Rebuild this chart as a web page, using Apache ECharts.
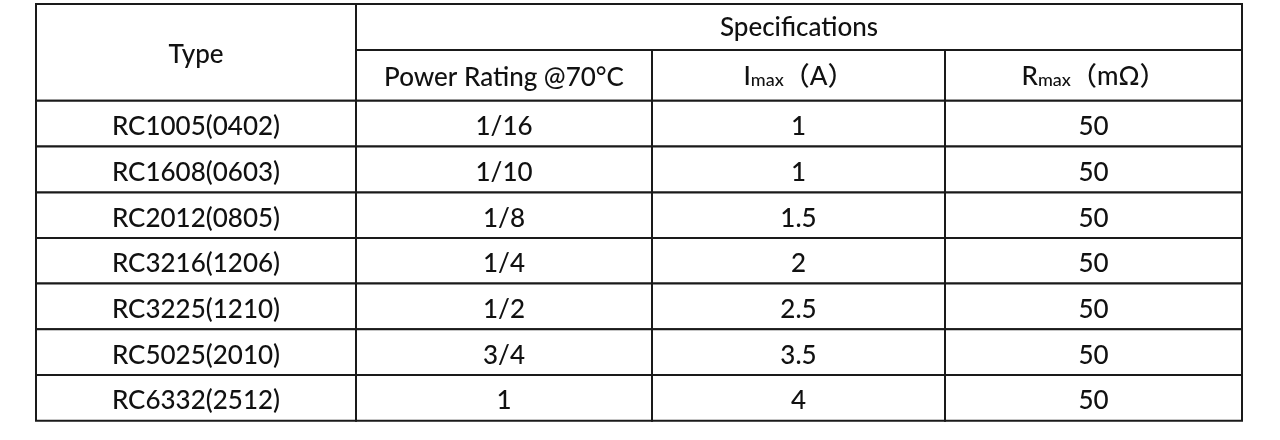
<!DOCTYPE html>
<html>
<head>
    <meta charset="utf-8" />
    <title>Specifications</title>
    <style>
        html, body { margin: 0; padding: 0; background: #fff; }
        #spec-table { width: 1280px; height: 440px; }
    </style>
</head>
<body>
    <div id="spec-table"></div>
    <script src="https://cdn.jsdelivr.net/npm/echarts@6/dist/echarts.min.js"></script>
<script>
    // 表格数据
    var types = ['RC1005(0402)', 'RC1608(0603)', 'RC2012(0805)', 'RC3216(1206)', 'RC3225(1210)', 'RC5025(2010)', 'RC6332(2512)'];
    var powerRating = ['1/16', '1/10', '1/8', '1/4', '1/2', '3/4', '1'];
    var iMax = ['1', '1', '1.5', '2', '2.5', '3.5', '4'];
    var rMax = ['50', '50', '50', '50', '50', '50', '50'];
    var groupHeader = 'Specifications';
    var typeHeader = 'Type';
    var colHeaders = ['Power Rating @70°C', '{b|I}{s|max}{p|（}{b|A}{p|）}', '{b|R}{s|max}{p|（}{b|mΩ}{p|）}'];

    // 列和行的边界（坐标轴单位）
    var colEdges = [0, 320, 616, 909, 1206];
    var rowEdges = [0, 46, 96.7, 142.6, 188.4, 234.1, 279.6, 325.3, 371, 416.7];

    var FONT = 'Lato, "Noto Sans CJK SC", sans-serif';
    var INK = '#111';

    // 单元格: [列起, 列止, 行起, 行止], 文字和偏移另存
    var cells = [];
    var texts = [];
    var offsets = [];
    function addCell(c0, c1, r0, r1, txt, dy) {
        cells.push([colEdges[c0], colEdges[c1], rowEdges[r0], rowEdges[r1]]);
        texts.push(txt);
        offsets.push(dy);
    }
    addCell(0, 1, 0, 2, typeHeader, 2);
    addCell(1, 4, 0, 1, groupHeader, 1);
    for (var i = 0; i < colHeaders.length; i++) {
        // 富文本表头比普通文字偏高, 多下移一点
        addCell(i + 1, i + 2, 1, 2, colHeaders[i], i === 0 ? 2 : 5);
    }
    var columns = [types, powerRating, iMax, rMax];
    for (var r = 0; r < types.length; r++) {
        for (var c = 0; c < columns.length; c++) {
            addCell(c, c + 1, r + 2, r + 3, columns[c][r], 3);
        }
    }

    // 富文本: 所有片段底部对齐, 行高 = 0.7*字号 使基线对齐; 下标稍低
    function tok(size, drop) {
        return { fontFamily: FONT, fontSize: size, fontWeight: 500, lineHeight: size * 0.7 - drop, verticalAlign: 'bottom', fill: INK };
    }

    var myChart = echarts.init(document.getElementById('spec-table'));
    var option = {
        animation: false,
        grid: { left: 36, top: 4, width: 1206, height: 416.7 },
        xAxis: { type: 'value', min: 0, max: 1206, show: false },
        yAxis: { type: 'value', min: 0, max: 416.7, inverse: true, show: false },
        series: [{
            type: 'custom',
            data: cells,
            renderItem: function (params, api) {
                var p0 = api.coord([api.value(0), api.value(2)]);
                var p1 = api.coord([api.value(1), api.value(3)]);
                var txt = texts[params.dataIndex];
                return {
                    type: 'group',
                    children: [{
                        type: 'rect',
                        shape: { x: p0[0], y: p0[1], width: p1[0] - p0[0], height: p1[1] - p0[1] },
                        style: { fill: '#fff', stroke: '#1a1a1a', lineWidth: 2 }
                    }, {
                        type: 'text',
                        style: {
                            text: txt,
                            x: (p0[0] + p1[0]) / 2,
                            y: (p0[1] + p1[1]) / 2 + offsets[params.dataIndex],
                            align: 'center',
                            verticalAlign: 'middle',
                            fontFamily: FONT,
                            fontSize: 26,
                            fontWeight: 500,
                            fill: INK,
                            rich: {
                                b: tok(26, 0),
                                s: tok(18, 3),
                                p: tok(26, 0)
                            }
                        }
                    }]
                };
            }
        }]
    };
    myChart.setOption(option);
</script>
</body>
</html>
